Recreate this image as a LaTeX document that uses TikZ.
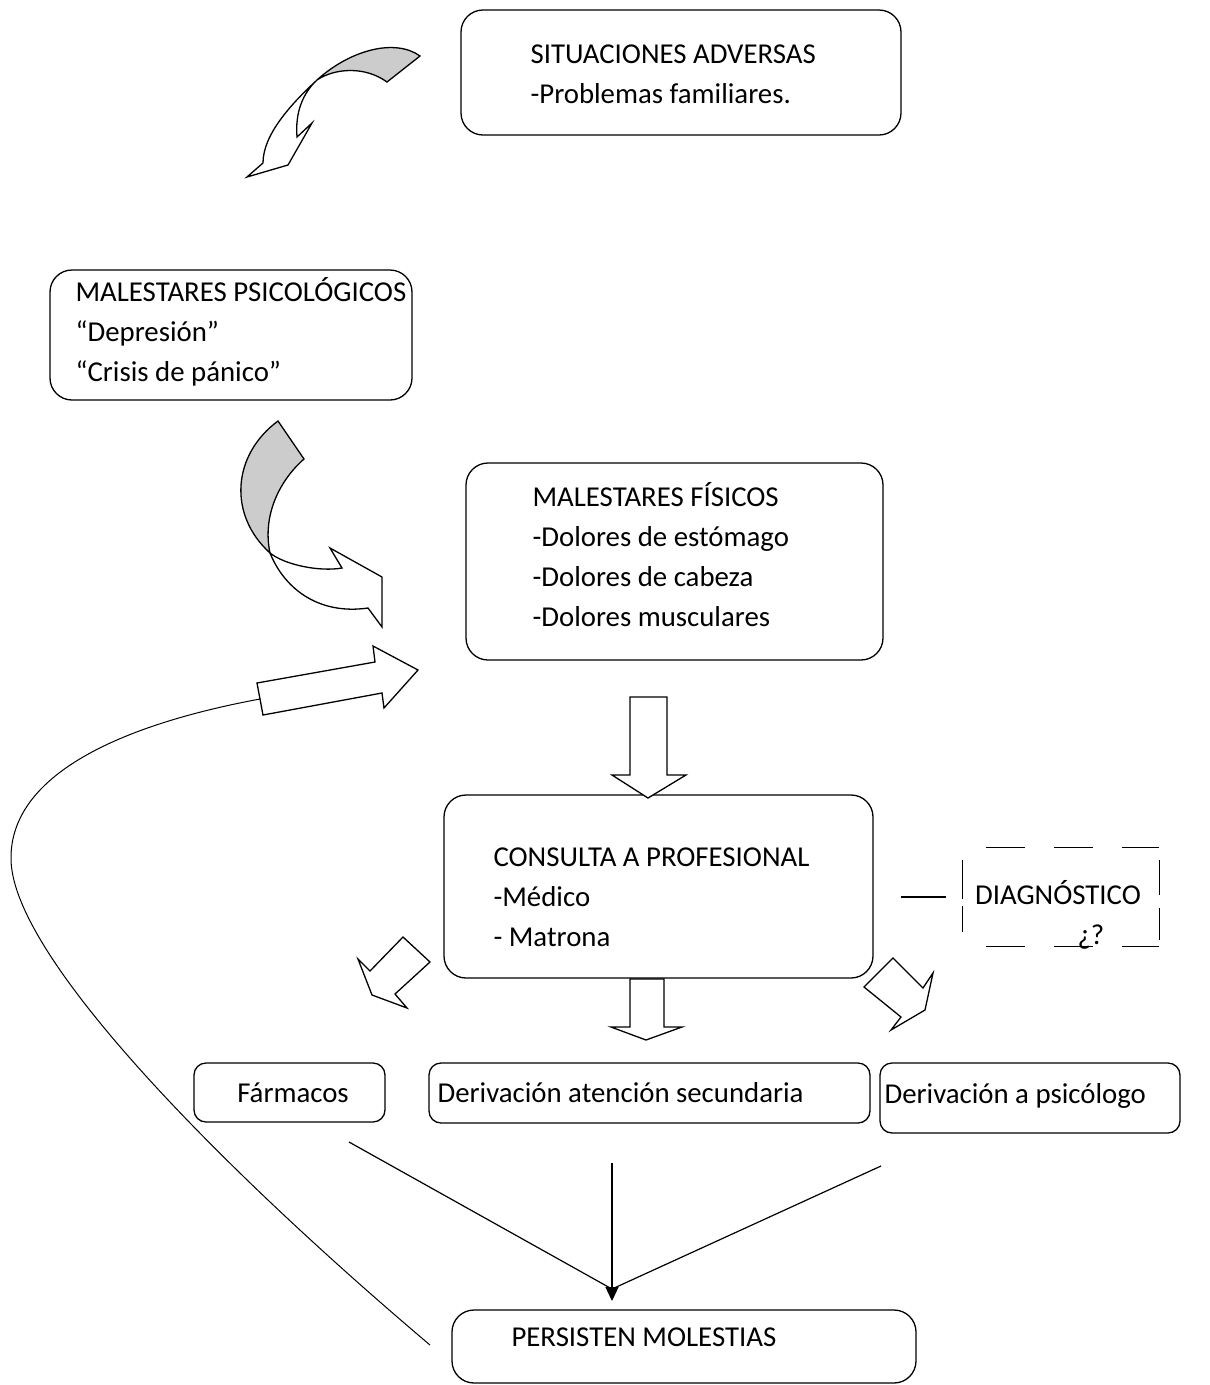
\documentclass[tikz,border=0pt]{standalone}
\usepackage{fontspec}
\setmainfont{Carlito}
\usetikzlibrary{arrows.meta}
\tikzset{
  box/.style={draw, rounded corners=22pt, line width=1.3pt},
  smallbox/.style={draw, rounded corners=12pt, line width=1.3pt},
  hdash/.style={line width=1.3pt, dash pattern=on 39pt off 29pt, dash phase=45pt},
  txt/.style={align=left, inner sep=0pt, anchor=west, font=\fontsize{28.8}{40}\selectfont},
  blockarrow/.style={draw, line width=1.3pt, fill=white, line join=miter},
  grayside/.style={draw, line width=1.3pt, fill=black!20},
  link/.style={line width=1.2pt},
}
\begin{document}
\begin{tikzpicture}[x=1pt,y=-1pt]
\useasboundingbox (0,0) rectangle (1210,1385);

% boxes
\node[box, minimum width=440pt, minimum height=125pt] (adv) at (681,72.5) {};
\node[box, minimum width=362pt, minimum height=130pt] (psi) at (231,335) {};
\node[box, minimum width=417pt, minimum height=197pt] (fis) at (674.5,561.5) {};
\node[box, minimum width=429pt, minimum height=183pt] (con) at (658.5,886.5) {};
\node[minimum width=196pt, minimum height=98pt, inner sep=0pt] (diag) at (1061,897) {};
\node[smallbox, minimum width=191pt, minimum height=59pt] (far) at (289.5,1092.5) {};
\node[smallbox, minimum width=441pt, minimum height=60pt] (der) at (649.5,1093) {};
\node[smallbox, minimum width=300pt, minimum height=70pt] (psic) at (1030,1098) {};
\node[box, minimum width=464pt, minimum height=73pt] (per) at (684,1346.5) {};

% dashed frame of the diagnosis
\draw[hdash] (diag.north west) -- (diag.north east);
\draw[hdash] (diag.south west) -- (diag.south east);
\draw[line width=1.3pt, dash pattern=on 0pt off 12pt on 39pt off 7pt on 26pt off 30pt] (diag.north west) -- (diag.south west);
\draw[line width=1.3pt, dash pattern=on 0pt off 12pt on 35pt off 13pt on 32pt off 30pt] (diag.north east) -- (diag.south east);

% texts
\node[txt] (advtxt) at ([xshift=70pt,yshift=-1.5pt]adv.west) {SITUACIONES ADVERSAS\\-Problemas familiares.};
\node[txt] (psitxt) at ([xshift=26pt,yshift=3pt]psi.west) {MALESTARES PSICOLÓGICOS\\“Depresión”\\“Crisis de pánico”};
\node[txt] (fistxt) at ([xshift=67pt,yshift=6.5pt]fis.west) {MALESTARES FÍSICOS\\-Dolores de estómago\\-Dolores de cabeza\\-Dolores musculares};
\node[txt] (contxt) at ([xshift=50pt,yshift=-10.5pt]con.west) {CONSULTA A PROFESIONAL\\-Médico\\- Matrona};
\node[txt, anchor=center, align=center] (diagtxt) at ([xshift=-3pt,yshift=-18pt]diag.center) {DIAGNÓSTICO\\\hspace*{66pt}¿?};
\node[txt, anchor=center] (fartxt) at ([xshift=3.5pt]far.center) {Fármacos};
\node[txt] (dertxt) at ([xshift=9pt]der.west) {Derivación atención secundaria};
\node[txt] (psictxt) at ([xshift=5pt,yshift=2pt]psic.west) {Derivación a psicólogo};
\node[txt] (pertxt) at ([xshift=60pt,yshift=9.5pt]per.west) {PERSISTEN MOLESTIAS};

% curved arrow from top box
\filldraw[grayside] (420,56) .. controls (395,38) and (350,50) .. (317,80) .. controls (335,68) and (365,66) .. (387,82) -- cycle;
\filldraw[blockarrow] (317,80) .. controls (290,105) and (263,135) .. (263,163) -- (247,177) -- (288,165) -- (312,123) -- (297,137) .. controls (295,112) and (303,93) .. (317,80) -- cycle;

% curved arrow to physical symptoms
\filldraw[grayside] (278,421) -- (304,459) .. controls (280,480) and (262,515) .. (270,553) .. controls (228,515) and (232,455) .. (278,421) -- cycle;
\filldraw[blockarrow] (270,553) .. controls (285,565) and (320,572) .. (342,568) -- (330,548) -- (382,577) -- (382,627) -- (368,608) .. controls (320,615) and (285,590) .. (270,553) -- cycle;

% feedback loop
\filldraw[blockarrow] (257,683) -- (375,662) -- (373,646) -- (418,670) -- (384,708) -- (382,693) -- (263,715) -- cycle;
\coordinate (fbtail) at (260,699);
\coordinate (loopend) at (430,1345);
\draw[line width=1pt] (fbtail) .. controls (120,725) and (10,775) .. (11,859) .. controls (12,960) and (235,1180) .. (loopend);

% block arrows
\filldraw[blockarrow] (630,697) -- (667,697) -- (667,775) -- (686,775) -- (648,798) -- (612,775) -- (630,775) -- cycle;
\filldraw[blockarrow] (630,979) -- (664,979) -- (664,1027) -- (682,1027) -- (646,1040) -- (611,1027) -- (630,1027) -- cycle;
\filldraw[blockarrow] (403,937) -- (430,962) -- (395,994) -- (407,1008) -- (372,995) -- (358,959) -- (370,971) -- cycle;
\filldraw[blockarrow] (864,987) -- (893,958) -- (923,988) -- (933,973) -- (925,1010) -- (891,1030) -- (901,1017) -- cycle;

% diagnosis link
\draw[line width=1.3pt, dash pattern=on 0pt off 27pt on 45pt off 40pt] (diag.west -| con.east) -- (diag.west);

% converging lines
\coordinate (farfoot) at (349,1142);
\coordinate (derfoot) at (612,1163);
\coordinate (psicfoot) at (881,1166);
\coordinate (meet) at (612,1301);
\draw[link] (farfoot) -- ([yshift=12pt]meet);
\draw[link] (psicfoot) -- ([yshift=12pt]meet);
\draw[link, -{Triangle[length=14pt,width=13pt]}] (derfoot) -- (meet);
\end{tikzpicture}
\end{document}
